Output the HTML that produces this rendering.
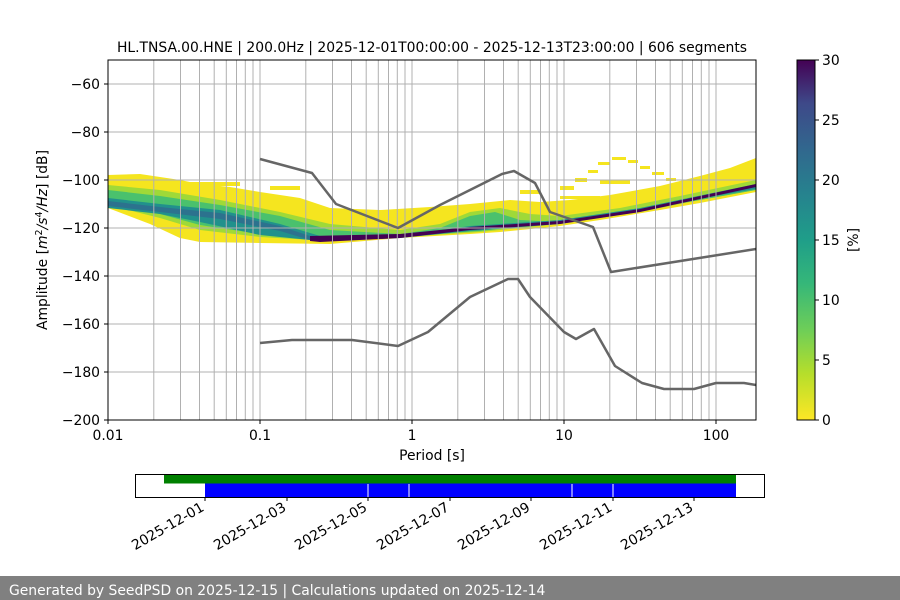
<!DOCTYPE html>
<html><head><meta charset="utf-8"><style>
html,body{margin:0;padding:0;background:#fff;}
svg{display:block;font-family:"DejaVu Sans","Liberation Sans",sans-serif;}
</style></head><body>
<svg width="900" height="600" viewBox="0 0 900 600" xmlns="http://www.w3.org/2000/svg">
<defs>
<linearGradient id="vir" x1="0" y1="1" x2="0" y2="0">
<stop offset="0" stop-color="#fde725"/>
<stop offset="0.13" stop-color="#b5de2b"/>
<stop offset="0.25" stop-color="#6ece58"/>
<stop offset="0.38" stop-color="#35b779"/>
<stop offset="0.5" stop-color="#1f9e89"/>
<stop offset="0.63" stop-color="#26828e"/>
<stop offset="0.75" stop-color="#31688e"/>
<stop offset="0.88" stop-color="#3e4989"/>
<stop offset="1" stop-color="#440154"/>
</linearGradient>
<clipPath id="pc"><rect x="108" y="60" width="648" height="360"/></clipPath>
</defs>
<text x="432" y="52" font-size="13.9" text-anchor="middle">HL.TNSA.00.HNE | 200.0Hz | 2025-12-01T00:00:00 - 2025-12-13T23:00:00 | 606 segments</text>
<g clip-path="url(#pc)">
<!-- yellow envelope -->
<polygon fill="#f5e51f" points="108,175 140,174 180,180 200,184 230,187 260,192 300,198 330,208 380,210 430,207 470,204 510,200 540,202 570,200 610,195 660,186 700,176 730,168 756,158 756,192 700,203 660,210 600,220 560,226 500,232 470,234 400,238 330,244 260,243 200,242 180,238 150,224 108,208"/>
<!-- scattered yellow dots -->
<g fill="#f5e51f">
<rect x="560" y="186" width="14" height="4"/><rect x="575" y="178" width="12" height="4"/><rect x="588" y="170" width="10" height="3"/><rect x="598" y="162" width="12" height="3"/><rect x="612" y="157" width="14" height="3"/><rect x="628" y="160" width="10" height="3"/><rect x="640" y="166" width="10" height="3"/><rect x="652" y="172" width="12" height="3"/><rect x="666" y="178" width="10" height="3"/>
<rect x="600" y="180" width="30" height="4"/><rect x="560" y="196" width="40" height="3"/>
<rect x="180" y="182" width="60" height="4"/><rect x="270" y="186" width="30" height="4"/><rect x="520" y="190" width="20" height="4"/>
</g>
<!-- light green -->
<polygon fill="#9fd938" points="108,185 160,190 220,200 280,212 330,224 400,230 440,224 470,212 500,208 530,214 560,216 620,208 680,196 756,180 756,190 700,200 640,212 560,224 480,232 400,237 330,241 260,237 200,230 160,218 108,205"/>
<!-- green -->
<polygon fill="#4ac16d" points="108,190 160,196 220,205 280,216 330,230 400,234 440,228 470,216 495,212 520,220 560,222 620,214 680,202 756,186 756,190 700,200 640,210 560,222 480,231 400,236 330,240 260,234 200,225 160,214 108,204"/>
<!-- teal -->
<polygon fill="#21918c" points="108,198 160,204 220,210 280,224 320,236 400,236 470,226 560,220 640,208 756,184 756,189 680,202 560,224 470,231 400,238 320,241 260,235 200,222 160,214 108,208"/>
<!-- dark line -->
<polygon fill="#2c728e" points="108,201 160,207 220,213 280,226 310,236 310,240 280,231 220,219 160,212 108,206"/>
<polygon fill="#440154" points="310,236 400,234 470,227 560,221 640,209 756,184 756,187 640,212 560,224 470,230 400,238 320,242 310,241"/>
</g>
<!-- grid -->
<g stroke="#b0b0b0" stroke-width="1">
<line x1="153.8" y1="60" x2="153.8" y2="420"/><line x1="180.5" y1="60" x2="180.5" y2="420"/><line x1="199.5" y1="60" x2="199.5" y2="420"/><line x1="214.2" y1="60" x2="214.2" y2="420"/><line x1="226.3" y1="60" x2="226.3" y2="420"/><line x1="236.5" y1="60" x2="236.5" y2="420"/><line x1="245.3" y1="60" x2="245.3" y2="420"/><line x1="253" y1="60" x2="253" y2="420"/>
<line x1="260" y1="60" x2="260" y2="420"/><line x1="305.8" y1="60" x2="305.8" y2="420"/><line x1="332.5" y1="60" x2="332.5" y2="420"/><line x1="351.5" y1="60" x2="351.5" y2="420"/><line x1="366.2" y1="60" x2="366.2" y2="420"/><line x1="378.3" y1="60" x2="378.3" y2="420"/><line x1="388.5" y1="60" x2="388.5" y2="420"/><line x1="397.3" y1="60" x2="397.3" y2="420"/><line x1="405" y1="60" x2="405" y2="420"/>
<line x1="412" y1="60" x2="412" y2="420"/><line x1="457.8" y1="60" x2="457.8" y2="420"/><line x1="484.5" y1="60" x2="484.5" y2="420"/><line x1="503.5" y1="60" x2="503.5" y2="420"/><line x1="518.2" y1="60" x2="518.2" y2="420"/><line x1="530.3" y1="60" x2="530.3" y2="420"/><line x1="540.5" y1="60" x2="540.5" y2="420"/><line x1="549.3" y1="60" x2="549.3" y2="420"/><line x1="557" y1="60" x2="557" y2="420"/>
<line x1="564" y1="60" x2="564" y2="420"/><line x1="609.8" y1="60" x2="609.8" y2="420"/><line x1="636.5" y1="60" x2="636.5" y2="420"/><line x1="655.5" y1="60" x2="655.5" y2="420"/><line x1="670.2" y1="60" x2="670.2" y2="420"/><line x1="682.3" y1="60" x2="682.3" y2="420"/><line x1="692.5" y1="60" x2="692.5" y2="420"/><line x1="701.3" y1="60" x2="701.3" y2="420"/><line x1="709" y1="60" x2="709" y2="420"/>
<line x1="716" y1="60" x2="716" y2="420"/>
<line x1="108" y1="84" x2="756" y2="84"/><line x1="108" y1="132" x2="756" y2="132"/><line x1="108" y1="180" x2="756" y2="180"/><line x1="108" y1="228" x2="756" y2="228"/><line x1="108" y1="276" x2="756" y2="276"/><line x1="108" y1="324" x2="756" y2="324"/><line x1="108" y1="372" x2="756" y2="372"/>
</g>
<!-- noise models -->
<g fill="none" stroke="#666" stroke-width="2.5" stroke-linejoin="round" clip-path="url(#pc)">
<polyline points="260,159 312,173 336,204 398,228 440,205 502,174 514,171 535,183 550,212 593,227 611,272 756,249"/>
<polyline points="260,343 292,340 352,340 398,346 428,332 470,297 508,279 518,279 530,297 564,332 576,339 594,329 615,366 642,383 664,389 694,389 716,383 744,383 756,385"/>
</g>
<rect x="108" y="60" width="648" height="360" fill="none" stroke="#000" stroke-width="1"/>
<!-- ticks -->
<g stroke="#000"><line x1="104" y1="84" x2="108" y2="84"/><line x1="104" y1="132" x2="108" y2="132"/><line x1="104" y1="180" x2="108" y2="180"/><line x1="104" y1="228" x2="108" y2="228"/><line x1="104" y1="276" x2="108" y2="276"/><line x1="104" y1="324" x2="108" y2="324"/><line x1="104" y1="372" x2="108" y2="372"/><line x1="104" y1="420" x2="108" y2="420"/>
<line x1="108" y1="420" x2="108" y2="424"/><line x1="260" y1="420" x2="260" y2="424"/><line x1="412" y1="420" x2="412" y2="424"/><line x1="564" y1="420" x2="564" y2="424"/><line x1="716" y1="420" x2="716" y2="424"/></g>
<g font-size="13.9" text-anchor="end">
<text x="100" y="89">−60</text><text x="100" y="137">−80</text><text x="100" y="185">−100</text><text x="100" y="233">−120</text><text x="100" y="281">−140</text><text x="100" y="329">−160</text><text x="100" y="377">−180</text><text x="100" y="425">−200</text>
</g>
<g font-size="13.9" text-anchor="middle">
<text x="108" y="440">0.01</text><text x="260" y="440">0.1</text><text x="412" y="440">1</text><text x="564" y="440">10</text><text x="716" y="440">100</text>
<text x="432" y="460">Period [s]</text>
</g>
<text transform="translate(47,240) rotate(-90)" font-size="13.9" text-anchor="middle">Amplitude [<tspan font-style="italic">m</tspan><tspan font-size="9.5" dy="-5">2</tspan><tspan dy="5" font-style="italic">/s</tspan><tspan font-size="9.5" dy="-5">4</tspan><tspan dy="5" font-style="italic">/Hz</tspan>] [dB]</text>
<!-- colorbar -->
<rect x="797" y="60" width="18" height="360" fill="url(#vir)" stroke="#000" stroke-width="1"/>
<g stroke="#000"><line x1="815" y1="60" x2="819" y2="60"/><line x1="815" y1="120" x2="819" y2="120"/><line x1="815" y1="180" x2="819" y2="180"/><line x1="815" y1="240" x2="819" y2="240"/><line x1="815" y1="300" x2="819" y2="300"/><line x1="815" y1="360" x2="819" y2="360"/><line x1="815" y1="420" x2="819" y2="420"/></g>
<g font-size="13.9"><text x="822" y="65">30</text><text x="822" y="125">25</text><text x="822" y="185">20</text><text x="822" y="245">15</text><text x="822" y="305">10</text><text x="822" y="365">5</text><text x="822" y="425">0</text></g>
<text transform="translate(858,240) rotate(-90)" font-size="13.9" text-anchor="middle">[%]</text>
<!-- timeline -->
<rect x="164" y="474" width="572" height="9.5" fill="#008000"/>
<rect x="205" y="483.5" width="531" height="13.5" fill="#0000ff"/>
<g stroke="#fff" stroke-width="1"><line x1="368" y1="484" x2="368" y2="497"/><line x1="409" y1="484" x2="409" y2="497"/><line x1="572" y1="484" x2="572" y2="497"/><line x1="613" y1="484" x2="613" y2="497"/></g>
<rect x="135.5" y="474.5" width="629" height="23" fill="none" stroke="#000" stroke-width="1"/>
<g stroke="#000"><line x1="205" y1="497" x2="205" y2="501"/><line x1="287" y1="497" x2="287" y2="501"/><line x1="368" y1="497" x2="368" y2="501"/><line x1="450" y1="497" x2="450" y2="501"/><line x1="531" y1="497" x2="531" y2="501"/><line x1="613" y1="497" x2="613" y2="501"/><line x1="694" y1="497" x2="694" y2="501"/></g>
<g font-size="13.9" text-anchor="end">
<text transform="translate(205,510) rotate(-30)">2025-12-01</text>
<text transform="translate(287,510) rotate(-30)">2025-12-03</text>
<text transform="translate(368,510) rotate(-30)">2025-12-05</text>
<text transform="translate(450,510) rotate(-30)">2025-12-07</text>
<text transform="translate(531,510) rotate(-30)">2025-12-09</text>
<text transform="translate(613,510) rotate(-30)">2025-12-11</text>
<text transform="translate(694,510) rotate(-30)">2025-12-13</text>
</g>
<!-- footer -->
<rect x="0" y="576" width="900" height="24" fill="#808080"/>
<text x="9" y="595" font-size="13.9" fill="#fff">Generated by SeedPSD on 2025-12-15 | Calculations updated on 2025-12-14</text>
</svg>
</body></html>
